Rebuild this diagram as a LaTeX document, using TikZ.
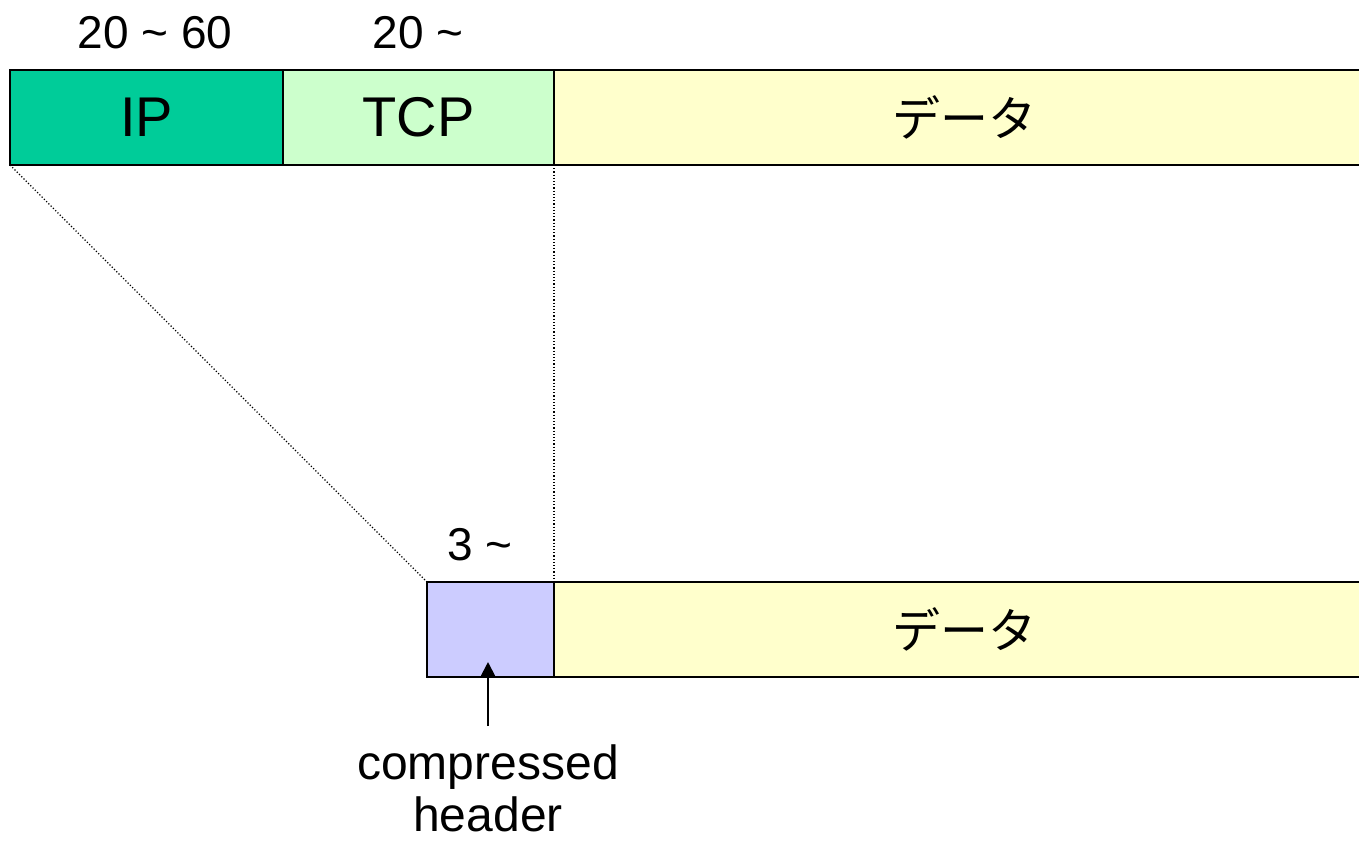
\documentclass[tikz,border=0pt]{standalone}
\usepackage{fontspec}
\setmainfont{Liberation Sans}
\newfontfamily\jpfont{Noto Sans CJK JP}
\usepackage{xcolor}
\usetikzlibrary{arrows.meta, positioning}
\definecolor{ipgreen}{HTML}{00CC99}
\definecolor{tcpgreen}{HTML}{CCFFCC}
\definecolor{datayellow}{HTML}{FFFFCC}
\definecolor{compblue}{HTML}{CCCCFF}

\begin{document}
\begin{tikzpicture}[x=0.5pt, y=-0.5pt, >={Triangle[length=7.5pt, width=7.5pt]},
			field/.style={draw, line width=1pt, minimum height=47.5pt, inner sep=0pt, outer sep=0pt, font=\fontsize{28}{34}\selectfont},
			jp/.style={font=\fontsize{24}{30}\jpfont},
			size/.style={font=\fontsize{23}{29}\selectfont},
			guide/.style={densely dotted, line width=0.6pt},
			node distance=0pt]
			
			\useasboundingbox (0,0) rectangle (1359,843);
			\clip (0,0) rectangle (1359,843);
			
			% Paquet original
			\node[field, fill=ipgreen, minimum width=136.5pt, anchor=north west] (ip) at (10,70) {IP};
			\node[field, fill=tcpgreen, minimum width=135.5pt, right=of ip] (tcp) {TCP};
			\node[field, fill=datayellow, minimum width=406pt, right=of tcp] (data) {};
			\node[jp] at ([xshift=2pt]data.center) {データ};
			
			% Paquet compresse
			\node[field, fill=compblue, minimum width=63.5pt, anchor=north west] (comp) at (427,582) {};
			\node[field, fill=datayellow, minimum width=406pt, right=of comp] (cdata) {};
			\node[jp] at ([xshift=2pt]cdata.center) {データ};
			
			% Tailles
			\node[size] (ipsize) at (155,33) {20 \textasciitilde\ 60};
			\node[size] (tcpsize) at (418,33) {20 \textasciitilde};
			\node[size] (compsize) at (480,545) {3 \textasciitilde};
			
			% Lignes de correspondance
			\draw[guide] (ip.south west) -- (comp.north west);
			\draw[guide] (tcp.south east) -- (comp.north east);
			
			% Legende
			\coordinate[below=24.5pt of comp.south, xshift=-1.25pt] (tail);
			\draw[->, line width=1pt] (tail) -- ([xshift=-1.25pt, yshift=7.5pt]comp.south);
			\node[size, font=\fontsize{24}{26}\selectfont, align=center, inner sep=0pt, below=9pt of tail] (label) {compressed\\header};
			
		\end{tikzpicture}
\end{document}
